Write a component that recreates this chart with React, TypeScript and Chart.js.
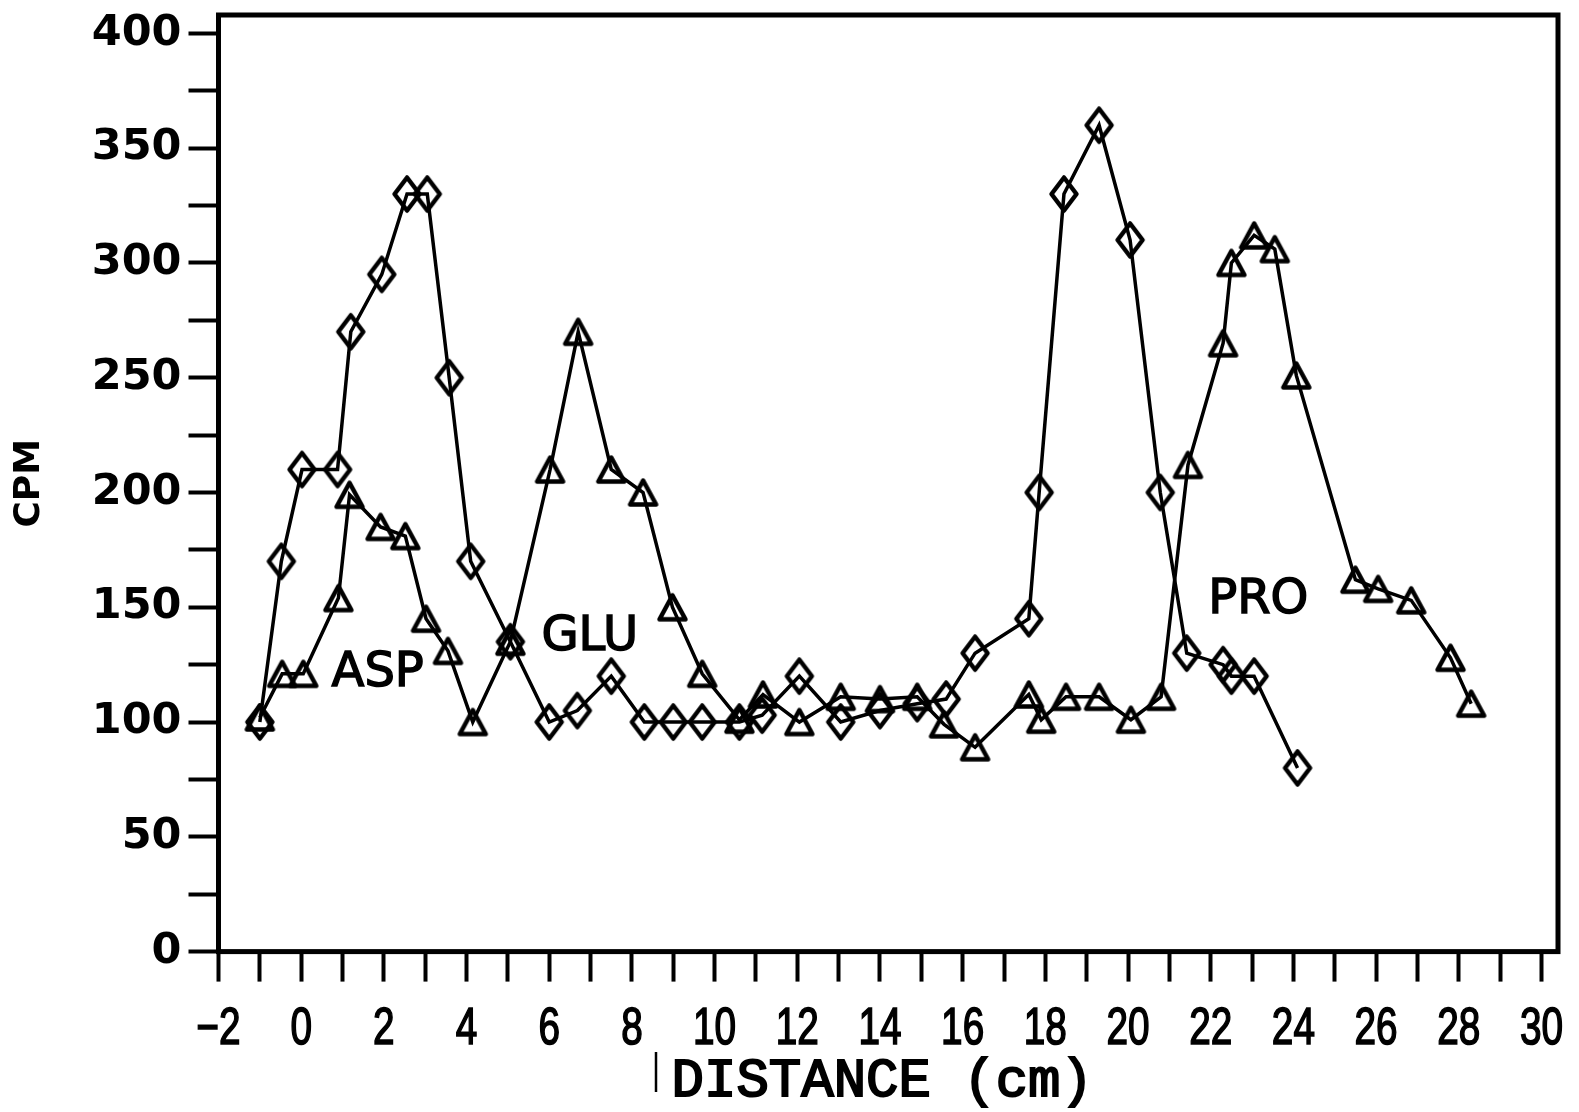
import React, { useEffect, useRef } from "react";
import { Chart, registerables } from "chart.js";

Chart.register(...registerables);

// Diamond series (open diamonds)
const diamondX = [-1.0, -0.48, 0.02, 0.88, 1.2, 1.95, 2.56, 3.05, 3.58, 4.1, 5.06, 6.0, 6.68, 7.5, 8.3, 9.0, 9.7, 10.6, 11.15, 12.05, 13.05, 14.0, 14.9, 15.6, 16.3, 17.6, 17.85, 18.45, 19.3, 20.05, 20.78, 21.42, 22.3, 22.5, 23.05, 24.1];
const diamondY = [100, 170, 210, 210, 270, 295, 330, 330, 250, 170, 135, 100, 105, 120, 100, 100, 100, 100, 103, 120, 100, 105, 108, 110, 130, 145, 200, 330, 360, 310, 200, 130, 125, 120, 120, 80];

// Triangle series (open triangles)
const triangleX = [-1.0, -0.46, 0.05, 0.9, 1.17, 1.92, 2.52, 3.02, 3.55, 4.15, 5.06, 6.02, 6.7, 7.5, 8.27, 8.98, 9.7, 10.6, 11.17, 12.05, 13.05, 14.0, 14.9, 15.55, 16.3, 17.6, 17.9, 18.5, 19.3, 20.07, 20.8, 21.45, 22.3, 22.5, 23.05, 23.55, 24.07, 25.5, 26.05, 26.85, 27.8, 28.3];
const triangleY = [102, 121, 121, 154, 199, 185, 181, 145, 131, 100, 135, 210, 270, 210, 200, 150, 121, 101, 112, 100, 111, 110, 111, 99, 89, 112, 101, 111, 111, 101, 111, 212, 265, 300, 312, 306, 251, 162, 158, 153, 128, 108];

// In-plot peak labels
const peakNames = ["ASP", "GLU", "PRO"];
const peakX = [1.85, 6.98, 23.15];
const peakY = [121, 137, 153];

// X tick labels (every 2 cm; minor ticks every 1 cm)
const xTickValues = [-2, 0, 2, 4, 6, 8, 10, 12, 14, 16, 18, 20, 22, 24, 26, 28, 30];
const xTickLabels = ["\u22122", "0", "2", "4", "6", "8", "10", "12", "14", "16", "18", "20", "22", "24", "26", "28", "30"];

// Axis settings
const xMin = -2;
const xMax = 30.4;
const yMin = 0;
const yMax = 408;
const xTitle = "DISTANCE (cm)";
const yTitle = "CPM";

function makeDiamond(w: number, h: number, lw: number) {
  const c = document.createElement("canvas");
  c.width = w + lw * 2 + 2;
  c.height = h + lw * 2 + 2;
  const ctx = c.getContext("2d")!;
  const cx = c.width / 2;
  const cy = c.height / 2;
  ctx.strokeStyle = "#000";
  ctx.lineWidth = lw;
  ctx.lineJoin = "round";
  ctx.beginPath();
  ctx.moveTo(cx, cy - h / 2);
  ctx.lineTo(cx + w / 2, cy);
  ctx.lineTo(cx, cy + h / 2);
  ctx.lineTo(cx - w / 2, cy);
  ctx.closePath();
  ctx.stroke();
  return c;
}

function makeTriangle(w: number, h: number, lw: number) {
  const c = document.createElement("canvas");
  c.width = w + lw * 2 + 2;
  c.height = h + lw * 2 + 2;
  const ctx = c.getContext("2d")!;
  const cx = c.width / 2;
  const cy = c.height / 2;
  ctx.strokeStyle = "#000";
  ctx.lineWidth = lw;
  ctx.lineJoin = "round";
  ctx.beginPath();
  ctx.moveTo(cx, cy - h / 2);
  ctx.lineTo(cx + w / 2, cy + h / 2);
  ctx.lineTo(cx - w / 2, cy + h / 2);
  ctx.closePath();
  ctx.stroke();
  return c;
}

export default function App() {
  const ref = useRef<HTMLCanvasElement | null>(null);

  useEffect(() => {
    if (!ref.current) return;
    const diamond = makeDiamond(25, 33, 4.5);
    const triangle = makeTriangle(26, 24, 4.5);

    const framePlugin = {
      id: "frameAndLabels",
      afterDatasetsDraw(chart: any) {
        const { ctx, chartArea, scales } = chart;
        ctx.save();
        ctx.strokeStyle = "#000";
        ctx.lineWidth = 5;
        ctx.strokeRect(chartArea.left, chartArea.top, chartArea.right - chartArea.left, chartArea.bottom - chartArea.top);
        ctx.fillStyle = "#000";
        ctx.font = "48px 'DejaVu Sans'";
        ctx.textAlign = "center";
        ctx.textBaseline = "middle";
        ctx.lineWidth = 1.5;
        for (let i = 0; i < peakNames.length; i++) {
          const px = scales.x.getPixelForValue(peakX[i]);
          const py = scales.y.getPixelForValue(peakY[i]);
          ctx.fillText(peakNames[i], px, py);
          ctx.strokeText(peakNames[i], px, py);
        }
        // x tick labels, condensed like the plotter font
        ctx.font = "51px 'Liberation Sans'";
        ctx.lineWidth = 1.6;
        for (let i = 0; i < xTickValues.length; i++) {
          const px = scales.x.getPixelForValue(xTickValues[i]);
          ctx.save();
          ctx.translate(px, chartArea.bottom + 78);
          ctx.scale(0.76, 1);
          ctx.fillText(xTickLabels[i], 0, 0);
          ctx.strokeText(xTickLabels[i], 0, 0);
          ctx.restore();
        }
        // x axis title
        ctx.font = "54px 'Liberation Mono'";
        ctx.lineWidth = 2;
        const tx = (chartArea.left + chartArea.right) / 2 - 6;
        ctx.fillText(xTitle, tx, 1082);
        ctx.strokeText(xTitle, tx, 1082);
        // small stray plotter mark beside axis title
        ctx.lineWidth = 2.5;
        ctx.beginPath();
        ctx.moveTo(656, 1052);
        ctx.lineTo(656, 1092);
        ctx.stroke();
        ctx.restore();
      },
    };

    const chart = new Chart(ref.current, {
      type: "line",
      data: {
        datasets: [
          {
            label: "diamonds",
            data: diamondX.map((x, i) => ({ x, y: diamondY[i] })),
            borderColor: "#000",
            borderWidth: 3.5,
            pointStyle: diamond as any,
            pointRadius: 10,
            fill: false,
            tension: 0,
          },
          {
            label: "triangles",
            data: triangleX.map((x, i) => ({ x, y: triangleY[i] })),
            borderColor: "#000",
            borderWidth: 3.5,
            pointStyle: triangle as any,
            pointRadius: 10,
            fill: false,
            tension: 0,
          },
        ],
      },
      options: {
        animation: false,
        responsive: false,
        devicePixelRatio: 1,
        layout: { padding: { left: 0, top: 15, right: 21, bottom: 0 } },
        plugins: { legend: { display: false }, tooltip: { enabled: false } },
        scales: {
          x: {
            type: "linear",
            min: xMin,
            max: xMax,
            border: { display: false },
            grid: {
              drawOnChartArea: false,
              drawTicks: true,
              tickLength: 30,
              tickWidth: 4,
              tickColor: "#000",
              color: "#000",
            },
            ticks: {
              display: false,
              stepSize: 1,
              includeBounds: false,
              autoSkip: false,
              maxRotation: 0,
              minRotation: 0,
            },
            title: { display: false, text: xTitle },
            afterFit: (scale: any) => {
              scale.height = 160.4;
              scale.paddingLeft = 0;
              scale.paddingRight = 0;
            },
          },
          y: {
            type: "linear",
            min: yMin,
            max: yMax,
            border: { display: false },
            grid: {
              drawOnChartArea: false,
              drawTicks: true,
              tickLength: 30,
              tickWidth: 4,
              tickColor: "#000",
              color: "#000",
            },
            ticks: {
              stepSize: 25,
              includeBounds: false,
              autoSkip: false,
              padding: 7,
              color: "#000",
              font: { family: "'DejaVu Sans'", size: 43, weight: "bold" },
              callback: (v: any) => (Math.round(v) % 50 === 0 ? String(v) : ""),
            },
            title: {
              display: true,
              text: yTitle,
              color: "#000",
              font: { family: "'DejaVu Sans'", size: 36, weight: "bold" },
              padding: { top: 8, bottom: 0 },
            },
            afterFit: (scale: any) => {
              scale.width = 218.5;
              scale.paddingTop = 0;
              scale.paddingBottom = 0;
            },
          },
        },
      },
      plugins: [framePlugin],
    });
    return () => chart.destroy();
  }, []);

  return (
    <div style={{ position: "fixed", left: 0, top: 0, width: 1579, height: 1112, background: "#fff" }}>
      <canvas ref={ref} width={1579} height={1112} style={{ width: 1579, height: 1112, display: "block" }} />
    </div>
  );
}
